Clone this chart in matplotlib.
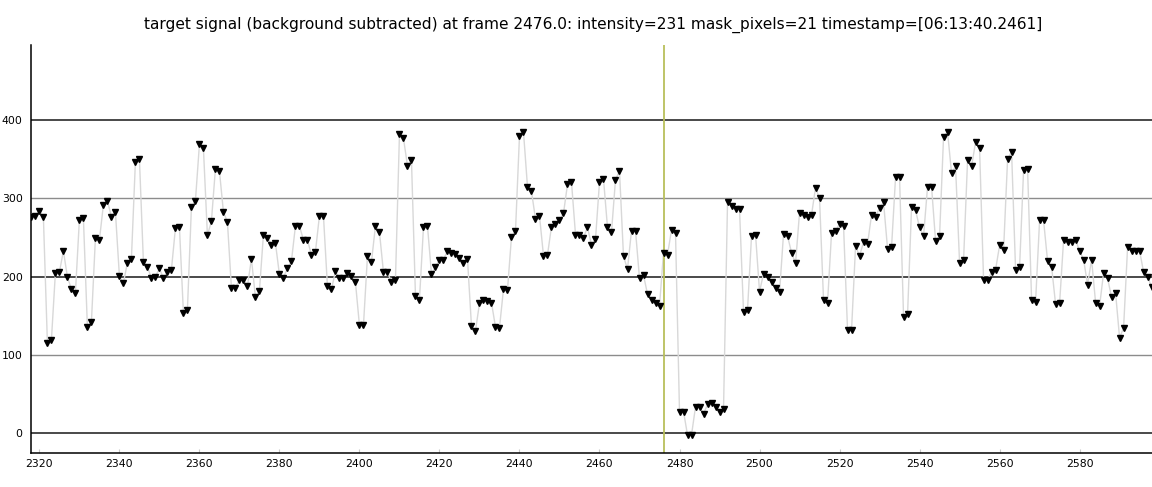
import numpy as np
import matplotlib
matplotlib.use('Agg')
import matplotlib.pyplot as plt

# frames 2318 .. 2598, one value per frame
start_frame = 2318
intensity = [
    276, 278, 284, 276, 116, 119, 205, 206, 233, 200,   # 2318
    184, 179, 273, 275, 136, 142, 249, 247, 292, 297,   # 2328
    277, 283, 201, 192, 218, 223, 347, 351, 219, 213,   # 2338
    198, 200, 211, 198, 206, 209, 262, 264, 154, 158,   # 2348
    289, 297, 369, 364, 253, 271, 338, 335, 283, 270,   # 2358
    186, 186, 196, 196, 188, 223, 174, 182, 254, 250,   # 2368
    241, 243, 203, 199, 211, 220, 265, 265, 247, 247,   # 2378
    228, 232, 278, 278, 188, 184, 207, 198, 198, 205,   # 2388
    201, 193, 138, 138, 226, 219, 265, 257, 206, 206,   # 2398
    193, 196, 382, 377, 342, 349, 176, 171, 263, 265,   # 2408
    204, 212, 222, 222, 233, 231, 229, 224, 218, 223,   # 2418
    137, 131, 166, 171, 169, 167, 136, 135, 184, 183,   # 2428
    251, 258, 380, 385, 315, 309, 274, 278, 227, 228,   # 2438
    264, 268, 272, 281, 318, 321, 254, 253, 250, 263,   # 2448
    241, 248, 321, 325, 263, 257, 324, 335, 226, 210,   # 2458
    259, 259, 198, 202, 178, 171, 166, 163, 231, 228,   # 2468
    260, 256, 27, 28, -2, -2, 34, 34, 25, 37,           # 2478
    39, 34, 28, 31, 295, 290, 287, 286, 155, 158,       # 2488
    252, 254, 181, 204, 200, 194, 186, 180, 255, 252,   # 2498
    231, 217, 282, 279, 276, 279, 314, 300, 170, 167,   # 2508
    256, 258, 268, 265, 132, 132, 239, 227, 244, 242,   # 2518
    279, 277, 288, 295, 236, 238, 327, 327, 149, 152,   # 2528
    289, 285, 263, 252, 315, 315, 246, 252, 379, 385,   # 2538
    332, 341, 218, 221, 349, 341, 372, 364, 196, 196,   # 2548
    206, 209, 240, 234, 350, 360, 209, 212, 336, 338,   # 2558
    171, 168, 272, 272, 220, 213, 165, 166, 247, 245,   # 2568
    244, 247, 233, 222, 190, 222, 167, 163, 205, 198,   # 2578
    174, 179, 122, 135, 238, 233, 233, 233, 206, 200,   # 2588
    187,                                                # 2598
]
frames = np.arange(start_frame, start_frame + len(intensity))

current_frame = 2476.0
current_intensity = 231
mask_pixels = 21
timestamp = '06:13:40.2461'

fig = plt.figure(figsize=(11.52, 4.87), dpi=100)
ax = fig.add_axes([0.0269, 0.0698, 0.9731, 0.8378])

# grid lines: dark at 0/200/400, lighter at 100/300
for y in [0, 200, 400]:
    ax.axhline(y, color='#3a3a3a', lw=1.3, zorder=1)
for y in [100, 300]:
    ax.axhline(y, color='#8c8c8c', lw=1.0, zorder=1)

ax.plot(frames, intensity, color='#d8d8d8', lw=1.0, zorder=2)
ax.plot(frames, intensity, ls='none', marker='v', ms=4.5,
        mfc='black', mec='black', zorder=3)

ax.axvline(current_frame, color='#b9bf5c', lw=1.3, zorder=2)

ax.set_xlim(2317.9, 2598.1)
ax.set_ylim(-25, 496)
ax.set_xticks(range(2320, 2600, 20))
ax.set_yticks(range(0, 500, 100))
ax.tick_params(axis='x', direction='in', length=3, color='#c8c8c8',
               labelsize=7.8, pad=4)
ax.tick_params(axis='y', length=0, labelsize=7.8, pad=6)

for s in ['top', 'right']:
    ax.spines[s].set_visible(False)
ax.spines['left'].set_linewidth(1.1)
ax.spines['bottom'].set_linewidth(1.1)

fig.suptitle(f'target signal (background subtracted) at frame {current_frame}: '
             f'intensity={current_intensity} mask_pixels={mask_pixels} '
             f'timestamp=[{timestamp}]', fontsize=11.1, x=0.515, y=0.965)

fig.savefig('out.png', dpi=100)
